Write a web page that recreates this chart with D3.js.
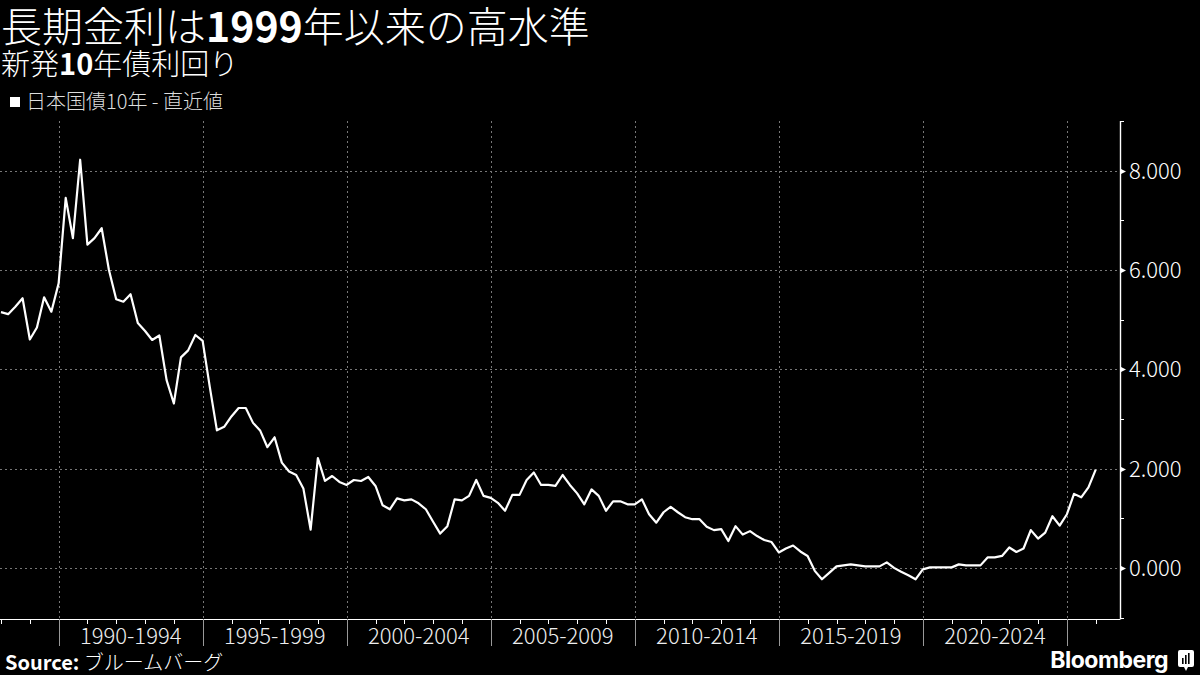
<!DOCTYPE html>
<html>
<head>
<meta charset="utf-8">
<script src="https://cdn.jsdelivr.net/npm/d3@7"></script>
<style>
  html, body { margin: 0; padding: 0; background: #000; }
  svg { display: block; }
  text { font-family: "Noto Sans CJK JP", "Noto Sans", sans-serif; }
</style>
</head>
<body>
<script>
// 新発10年債利回り, quarterly (quarter end), from Dec 1987 to Dec 2025
var firstYear = 1988;
var yields = [
  5.15, 5.11, 5.26, 5.43, 4.60, 4.84, 5.45, 5.16, 5.73, 7.45,
  6.64, 8.22, 6.51, 6.64, 6.84, 6.00, 5.41, 5.36, 5.51, 4.93,
  4.77, 4.59, 4.68, 3.78, 3.31, 4.24, 4.38, 4.69, 4.57, 3.65,
  2.77, 2.84, 3.05, 3.22, 3.22, 2.92, 2.76, 2.43, 2.63, 2.12,
  1.94, 1.87, 1.60, 0.77, 2.21, 1.75, 1.85, 1.73, 1.67, 1.77,
  1.75, 1.83, 1.65, 1.26, 1.18, 1.40, 1.36, 1.38, 1.30, 1.18,
  0.93, 0.69, 0.84, 1.38, 1.36, 1.45, 1.77, 1.45, 1.41, 1.31,
  1.15, 1.47, 1.47, 1.77, 1.92, 1.67, 1.67, 1.65, 1.87, 1.67,
  1.50, 1.28, 1.58, 1.45, 1.15, 1.34, 1.34, 1.28, 1.28, 1.38,
  1.08, 0.91, 1.12, 1.23, 1.12, 1.02, 0.98, 0.98, 0.83, 0.76,
  0.78, 0.54, 0.84, 0.67, 0.74, 0.64, 0.56, 0.52, 0.31, 0.39,
  0.45, 0.33, 0.24, -0.06, -0.23, -0.10, 0.03, 0.05, 0.07, 0.05,
  0.03, 0.03, 0.03, 0.11, 0.00, -0.08, -0.15, -0.23, -0.03, 0.01,
  0.01, 0.01, 0.01, 0.07, 0.05, 0.05, 0.05, 0.21, 0.21, 0.24,
  0.41, 0.32, 0.39, 0.76, 0.59, 0.71, 1.04, 0.85, 1.08, 1.49,
  1.42, 1.62, 1.98
];
var periodStarts = [1990, 1995, 2000, 2005, 2010, 2015, 2020, 2025];
var periodLabels = ["1990-1994", "1995-1999", "2000-2004", "2005-2009",
                    "2010-2014", "2015-2019", "2020-2024"];
var yMajor = [0, 2, 4, 6, 8];
var yMinor = [-1, 1, 3, 5, 7, 9];

var width = 1200, height = 675;
var plot = { left: 0, right: 1120, top: 121, bottom: 619 };

var data = yields.map(function(v, i) {
  // day 0 of the month = last day of the previous month
  return { date: new Date(firstYear, 3 * i, 0), value: v };
});

var svg = d3.select("body").append("svg")
    .attr("width", width)
    .attr("height", height);

svg.append("rect").attr("width", width).attr("height", height).attr("fill", "#000");

var x = d3.scaleTime()
    .domain([new Date(1990, 0, 1), new Date(2025, 0, 1)])
    .range([58.7, 1067]);

var y = d3.scaleLinear()
    .domain([-1.03, 9.0])
    .range([plot.bottom, plot.top]);

// header
svg.append("text")
    .attr("x", 1).attr("y", 42)
    .attr("fill", "#fff")
    .attr("font-size", 41)
    .selectAll("tspan")
    .data([["長期金利は", 300], ["1999", 700], ["年以来の高水準", 300]])
    .enter().append("tspan")
    .attr("font-weight", function(d) { return d[1]; })
    .text(function(d) { return d[0]; });

svg.append("text")
    .attr("x", 1).attr("y", 75)
    .attr("fill", "#fff")
    .attr("font-size", 29)
    .selectAll("tspan")
    .data([["新発", 300], ["10", 700], ["年債利回り", 300]])
    .enter().append("tspan")
    .attr("font-weight", function(d) { return d[1]; })
    .text(function(d) { return d[0]; });

svg.append("rect")
    .attr("x", 10).attr("y", 97).attr("width", 10).attr("height", 10)
    .attr("fill", "#fff");
svg.append("text")
    .attr("x", 26).attr("y", 109)
    .attr("fill", "#ddd")
    .attr("font-size", 20)
    .attr("font-weight", 300)
    .text("日本国債10年 - 直近値");

// grid
var grid = svg.append("g")
    .attr("stroke", "#777")
    .attr("stroke-width", 1)
    .attr("stroke-dasharray", "2,3");

grid.selectAll("line.h")
    .data(yMajor)
    .enter().append("line")
    .attr("class", "h")
    .attr("x1", plot.left).attr("x2", plot.right)
    .attr("y1", function(d) { return Math.round(y(d)) + 0.5; })
    .attr("y2", function(d) { return Math.round(y(d)) + 0.5; });

grid.selectAll("line.v")
    .data(periodStarts)
    .enter().append("line")
    .attr("class", "v")
    .attr("x1", function(d) { return Math.round(x(new Date(d, 0, 1))) + 0.5; })
    .attr("x2", function(d) { return Math.round(x(new Date(d, 0, 1))) + 0.5; })
    .attr("y1", plot.top).attr("y2", plot.bottom);

// x axis
var xAxis = svg.append("g");
xAxis.append("line")
    .attr("x1", plot.left).attr("x2", plot.right)
    .attr("y1", plot.bottom + 0.5).attr("y2", plot.bottom + 0.5)
    .attr("stroke", "#fff").attr("stroke-width", 1.2);

var years = d3.timeYear.range(new Date(1988, 0, 1), new Date(2027, 0, 1));
xAxis.selectAll("line.minor")
    .data(years)
    .enter().append("line")
    .attr("class", "minor")
    .attr("x1", function(d) { return Math.round(x(d)) + 0.5; })
    .attr("x2", function(d) { return Math.round(x(d)) + 0.5; })
    .attr("y1", plot.bottom).attr("y2", plot.bottom + 5)
    .attr("stroke", "#fff");

xAxis.selectAll("line.major")
    .data(periodStarts)
    .enter().append("line")
    .attr("class", "major")
    .attr("x1", function(d) { return Math.round(x(new Date(d, 0, 1))) + 0.5; })
    .attr("x2", function(d) { return Math.round(x(new Date(d, 0, 1))) + 0.5; })
    .attr("y1", plot.bottom).attr("y2", plot.bottom + 27)
    .attr("stroke", "#999");

xAxis.selectAll("text")
    .data(periodLabels)
    .enter().append("text")
    .attr("x", function(d, i) {
      return (x(new Date(periodStarts[i], 0, 1)) + x(new Date(periodStarts[i + 1], 0, 1))) / 2;
    })
    .attr("y", 644)
    .attr("text-anchor", "middle")
    .attr("fill", "#eee")
    .attr("font-size", 22)
    .attr("font-weight", 300)
    .text(function(d) { return d; });

// y axis
var yAxis = svg.append("g");
yAxis.append("line")
    .attr("x1", plot.right + 0.5).attr("x2", plot.right + 0.5)
    .attr("y1", plot.top).attr("y2", plot.bottom + 0.5)
    .attr("stroke", "#fff").attr("stroke-width", 1.4);

yAxis.selectAll("line.minor")
    .data(yMinor)
    .enter().append("line")
    .attr("class", "minor")
    .attr("x1", plot.right).attr("x2", plot.right + 4)
    .attr("y1", function(d) { return Math.max(plot.top + 0.5, Math.round(y(d)) + 0.5); })
    .attr("y2", function(d) { return Math.max(plot.top + 0.5, Math.round(y(d)) + 0.5); })
    .attr("stroke", "#fff");

yAxis.selectAll("path")
    .data(yMajor)
    .enter().append("path")
    .attr("d", function(d) {
      var yy = Math.round(y(d)) + 0.5;
      return "M" + plot.right + "," + (yy - 3) + "L" + (plot.right + 6) + "," + yy + "L" + plot.right + "," + (yy + 3) + "Z";
    })
    .attr("fill", "#fff");

yAxis.selectAll("text")
    .data(yMajor)
    .enter().append("text")
    .attr("x", plot.right + 9)
    .attr("y", function(d) { return y(d) + 8; })
    .attr("fill", "#fff")
    .attr("font-size", 22)
    .attr("font-weight", 300)
    .text(function(d) { return d3.format(".3f")(d); });

// line
svg.append("clipPath").attr("id", "clip")
  .append("rect")
    .attr("x", plot.left).attr("y", plot.top - 5)
    .attr("width", plot.right - plot.left).attr("height", plot.bottom - plot.top + 10);

var line = d3.line()
    .x(function(d) { return x(d.date); })
    .y(function(d) { return y(d.value); });

svg.append("path")
    .datum(data)
    .attr("clip-path", "url(#clip)")
    .attr("d", line)
    .attr("fill", "none")
    .attr("stroke", "#fff")
    .attr("stroke-width", 2.2)
    .attr("stroke-linejoin", "round");

// footer
svg.append("text")
    .attr("x", 5).attr("y", 670)
    .attr("fill", "#fff")
    .attr("font-size", 20)
    .selectAll("tspan")
    .data([["Source: ", 700], ["ブルームバーグ", 300]])
    .enter().append("tspan")
    .attr("font-weight", function(d) { return d[1]; })
    .text(function(d) { return d[0]; });

svg.append("text")
    .attr("x", 1168).attr("y", 668)
    .attr("text-anchor", "end")
    .attr("fill", "#fff")
    .attr("font-size", 23)
    .attr("font-weight", 700)
    .attr("letter-spacing", -0.5)
    .style("font-family", "Inter, 'Noto Sans', sans-serif")
    .text("Bloomberg");

var logo = svg.append("g").attr("transform", "translate(1178,650)");
logo.append("path")
    .attr("d", "M2,0H14Q16,0 16,2V15Q16,17 14,17H10L8,21L6,17H2Q0,17 0,15V2Q0,0 2,0Z")
    .attr("fill", "#fff");
logo.selectAll("rect")
    .data([[4, 8, 6], [7, 5, 9], [10, 3, 11]])
    .enter().append("rect")
    .attr("x", function(d) { return d[0]; })
    .attr("y", function(d) { return d[1]; })
    .attr("width", 1.6)
    .attr("height", function(d) { return 14 - d[1]; })
    .attr("fill", "#000");
</script>
</body>
</html>
